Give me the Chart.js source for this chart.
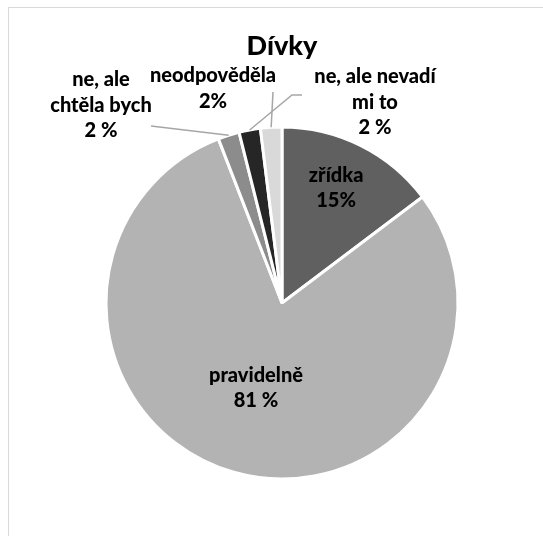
<!DOCTYPE html>
<html lang="cs">
<head>
<meta charset="utf-8">
<title>Dívky</title>
<script src="https://cdn.jsdelivr.net/npm/chart.js@4"></script>
<style>
  html, body { margin: 0; padding: 0; background: #fff; }
  #wrap { position: relative; width: 543px; height: 536px; overflow: hidden; }
  #frame { position: absolute; left: 8px; top: 7px; width: 600px; height: 600px; border: 1px solid #d9d9d9; }
  canvas { position: absolute; left: 0; top: 0; }
</style>
</head>
<body>
<div id="wrap">
  <div id="frame"></div>
  <canvas id="pieChart" width="543" height="536"></canvas>
</div>
<script>
const categories = ['zřídka', 'pravidelně', 'ne, ale chtěla bych', 'ne, ale nevadí mi to', 'neodpověděla'];
const percentages = [15, 81, 2, 2, 2];
const sliceColors = ['#606060', '#b3b3b3', '#8c8c8c', '#262626', '#d9d9d9'];

// how each category name wraps, and how its percentage is written
const nameLines = [['zřídka'], ['pravidelně'], ['ne, ale', 'chtěla bych'], ['ne, ale nevadí', 'mi to'], ['neodpověděla']];
const pctSuffix = ['%', ' %', ' %', ' %', '%'];

const FONT = 'Lato, "Open Sans", sans-serif';
const LINE_H = 25.5;

// inside labels sit on the slice's mid angle; outside ones get a fixed spot and a leader line
const labelPlace = [
  { inside: 0.69 },
  { inside: 0.54 },
  { x: 101, y: 86, leader: [[151, 126]] },
  { x: 375, y: 83, leader: [[292, 95], [302, 95]] },
  { x: 213, y: 82, leader: [[273, 92]] }
];

const pieLabels = {
  id: 'pieLabels',
  afterDatasetsDraw(chart) {
    const ctx = chart.ctx;
    const meta = chart.getDatasetMeta(0);
    ctx.save();

    // title
    ctx.fillStyle = '#000';
    ctx.textAlign = 'center';
    ctx.textBaseline = 'alphabetic';
    ctx.font = '900 27px ' + FONT;
    ctx.fillText('Dívky', 282, 55);

    meta.data.forEach((arc, i) => {
      const p = arc.getProps(['x', 'y', 'startAngle', 'endAngle', 'outerRadius'], true);
      const mid = (p.startAngle + p.endAngle) / 2;
      const place = labelPlace[i];
      const lines = nameLines[i].concat([percentages[i] + pctSuffix[i]]);
      let cx, y0;
      if (place.inside) {
        const r = p.outerRadius * place.inside;
        cx = p.x + Math.cos(mid) * r;
        const cy = p.y + Math.sin(mid) * r;
        y0 = cy - (lines.length - 1) * LINE_H / 2;
      } else {
        cx = place.x;
        y0 = place.y;
        ctx.strokeStyle = '#a6a6a6';
        ctx.lineWidth = 1.5;
        ctx.beginPath();
        ctx.moveTo(p.x + Math.cos(mid) * p.outerRadius, p.y + Math.sin(mid) * p.outerRadius);
        place.leader.forEach(pt => ctx.lineTo(pt[0], pt[1]));
        ctx.stroke();
      }
      ctx.fillStyle = '#000';
      ctx.font = '900 20px ' + FONT;
      lines.forEach((t, k) => ctx.fillText(t, cx, y0 + k * LINE_H));
    });
    ctx.restore();
  }
};

new Chart(document.getElementById('pieChart'), {
  type: 'pie',
  data: {
    labels: categories,
    datasets: [{
      data: percentages,
      backgroundColor: sliceColors,
      borderColor: '#ffffff',
      borderWidth: 3
    }]
  },
  options: {
    responsive: false,
    animation: false,
    layout: { padding: { left: 104.5, right: 83.5, top: 125.5, bottom: 55.5 } },
    plugins: {
      legend: { display: false },
      tooltip: { enabled: false }
    }
  },
  plugins: [pieLabels]
});
</script>
</body>
</html>
